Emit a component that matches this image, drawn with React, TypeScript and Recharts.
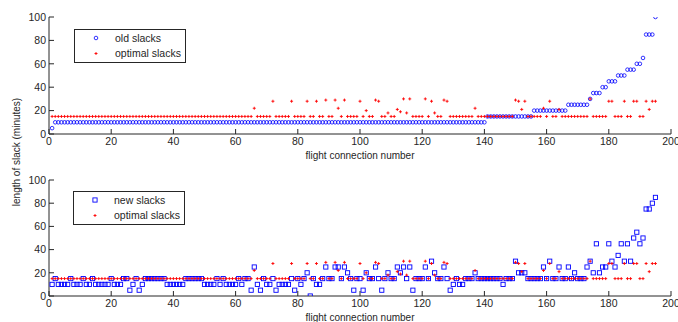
import React from 'react';
import { ScatterChart, Scatter, XAxis, YAxis } from 'recharts';

// flight connection numbers 1..195
const connectionNumbers: number[] = Array.from({ length: 195 }, (_, i) => i + 1);

const xTicks = [0, 20, 40, 60, 80, 100, 120, 140, 160, 180, 200];
const yTicks = [0, 20, 40, 60, 80, 100];

const oldSlacks = [
  5, 10, 10, 10, 10, 10, 10, 10, 10, 10,
  10, 10, 10, 10, 10, 10, 10, 10, 10, 10,
  10, 10, 10, 10, 10, 10, 10, 10, 10, 10,
  10, 10, 10, 10, 10, 10, 10, 10, 10, 10,
  10, 10, 10, 10, 10, 10, 10, 10, 10, 10,
  10, 10, 10, 10, 10, 10, 10, 10, 10, 10,
  10, 10, 10, 10, 10, 10, 10, 10, 10, 10,
  10, 10, 10, 10, 10, 10, 10, 10, 10, 10,
  10, 10, 10, 10, 10, 10, 10, 10, 10, 10,
  10, 10, 10, 10, 10, 10, 10, 10, 10, 10,
  10, 10, 10, 10, 10, 10, 10, 10, 10, 10,
  10, 10, 10, 10, 10, 10, 10, 10, 10, 10,
  10, 10, 10, 10, 10, 10, 10, 10, 10, 10,
  10, 10, 10, 10, 10, 10, 10, 10, 10, 10,
  15, 15, 15, 15, 15, 15, 15, 15, 15, 15,
  15, 15, 15, 15, 15, 20, 20, 20, 20, 20,
  20, 20, 20, 20, 20, 20, 25, 25, 25, 25,
  25, 25, 25, 30, 35, 35, 35, 40, 40, 45,
  45, 45, 50, 50, 50, 55, 55, 55, 60, 60,
  65, 85, 85, 85, 100,
];

const optimalSlacks = [
  15, 15, 15, 15, 15, 15, 15, 15, 15, 15,
  15, 15, 15, 15, 15, 15, 15, 15, 15, 15,
  15, 15, 15, 15, 15, 15, 15, 15, 15, 15,
  15, 15, 15, 15, 15, 15, 15, 15, 15, 15,
  15, 15, 15, 15, 15, 15, 15, 15, 15, 15,
  15, 15, 15, 15, 15, 15, 15, 15, 15, 15,
  15, 15, 15, 15, 15, 22, 15, 15, 15, 15,
  15, 28, 15, 15, 15, 15, 15, 28, 15, 15,
  15, 15, 28, 15, 15, 28, 15, 15, 29, 15,
  15, 29, 22, 15, 29, 15, 15, 15, 15, 28,
  15, 20, 15, 15, 29, 28, 15, 15, 18, 15,
  15, 21, 19, 30, 18, 30, 15, 15, 15, 15,
  30, 15, 28, 18, 15, 15, 29, 28, 15, 15,
  15, 15, 15, 15, 15, 15, 22, 15, 15, 15,
  15, 15, 15, 15, 15, 15, 15, 15, 15, 29,
  28, 21, 28, 15, 15, 15, 15, 15, 22, 15,
  28, 15, 15, 21, 15, 15, 15, 15, 15, 15,
  15, 15, 15, 30, 15, 15, 15, 15, 15, 28,
  28, 15, 15, 15, 28, 15, 15, 28, 28, 15,
  15, 28, 21, 28, 28,
];

const newSlacks = [
  10, 15, 10, 10, 10, 10, 15, 10, 10, 10,
  15, 10, 10, 15, 10, 10, 10, 10, 10, 15,
  10, 10, 10, 15, 15, 5, 10, 15, 5, 10,
  15, 15, 15, 15, 15, 15, 15, 10, 10, 10,
  10, 10, 10, 15, 15, 15, 15, 15, 15, 10,
  10, 10, 10, 15, 10, 15, 10, 10, 10, 10,
  15, 10, 15, 15, 5, 25, 10, 5, 15, 10,
  10, 15, 5, 10, 10, 10, 10, 15, 5, 15,
  10, 15, 20, 0, 15, 10, 10, 15, 25, 15,
  15, 25, 25, 15, 25, 20, 15, 5, 15, 15,
  5, 20, 15, 15, 25, 15, 5, 15, 20, 15,
  15, 25, 20, 25, 15, 25, 5, 15, 15, 15,
  25, 15, 30, 20, 15, 15, 25, 15, 5, 10,
  15, 10, 10, 15, 15, 15, 20, 15, 15, 15,
  15, 15, 15, 15, 15, 10, 15, 15, 15, 30,
  20, 20, 20, 15, 15, 15, 15, 15, 25, 15,
  30, 15, 15, 25, 15, 15, 25, 15, 20, 15,
  15, 15, 25, 30, 20, 45, 20, 25, 25, 45,
  30, 25, 35, 45, 30, 45, 30, 50, 55, 45,
  50, 75, 75, 80, 85,
];

const toPoints = (vals: number[]) => connectionNumbers.map((x, i) => ({ x, y: vals[i] }));
const oldData = toPoints(oldSlacks);
const optData = toPoints(optimalSlacks);
const newData = toPoints(newSlacks);

const FONT = '"Liberation Sans", Arial, Helvetica, sans-serif';
const AXIS = '#262626';
const BLUE = '#0000ff';
const RED = '#ff0000';

const Circle = (p: any) => (
  <circle cx={p.cx} cy={p.cy} r={1.8} fill="none" stroke={BLUE} strokeWidth={0.8} />
);
const Square = (p: any) => (
  <rect x={p.cx - 2.1} y={p.cy - 2.1} width={4.2} height={4.2} fill="none" stroke={BLUE} strokeWidth={0.9} />
);
const Plus = (p: any) => (
  <path d={`M${p.cx - 1.5},${p.cy}H${p.cx + 1.5}M${p.cx},${p.cy - 1.5}V${p.cy + 1.5}`} stroke={RED} strokeWidth={0.9} fill="none" />
);

const XTick = (p: any) => {
  const { x, y, payload } = p;
  return (
    <g>
      <line x1={x} x2={x} y1={y - 4} y2={y - 9} stroke={AXIS} strokeWidth={1} />
      <text x={x} y={y} dy="0.71em" textAnchor="middle" fontSize={10.5} fontFamily={FONT} fill={AXIS}>
        {payload.value}
      </text>
    </g>
  );
};

const YTick = (p: any) => {
  const { x, y, payload } = p;
  return (
    <g>
      <line x1={x + 3} x2={x + 8} y1={y} y2={y} stroke={AXIS} strokeWidth={1} />
      <text x={x} y={y} dy="0.355em" textAnchor="end" fontSize={10.5} fontFamily={FONT} fill={AXIS}>
        {payload.value}
      </text>
    </g>
  );
};

const Panel = ({ top, marginTop, xHeight, series }: any) => (
  <div style={{ position: 'absolute', left: 0, top }}>
    <ScatterChart width={678} height={161} margin={{ top: marginTop, right: 7, bottom: 0, left: 0 }}>
      <XAxis
        type="number"
        dataKey="x"
        domain={[0, 200]}
        ticks={xTicks}
        interval={0}
        height={xHeight}
        tickLine={false}
        tickSize={0}
        tickMargin={4}
        axisLine={{ stroke: AXIS }}
        tick={XTick}
        allowDataOverflow
      />
      <YAxis
        type="number"
        dataKey="y"
        domain={[0, 100]}
        ticks={yTicks}
        interval={0}
        width={49}
        tickLine={false}
        tickSize={0}
        tickMargin={3}
        axisLine={{ stroke: AXIS }}
        tick={YTick}
        allowDataOverflow
      />
      {series}
    </ScatterChart>
  </div>
);

const LegendBox = ({ x, y, first, FirstMark }: any) => (
  <g>
    <rect x={x + 0.5} y={y + 0.5} width={111} height={33} fill="#fff" stroke={AXIS} strokeWidth={1} />
    <FirstMark cx={x + 22} cy={y + 9} />
    <text x={x + 41} y={y + 9} dy="0.355em" fontSize={10.5} fontFamily={FONT} fill={AXIS}>{first}</text>
    <Plus cx={x + 22} cy={y + 24.5} />
    <text x={x + 41} y={y + 24.5} dy="0.355em" fontSize={10.5} fontFamily={FONT} fill={AXIS}>optimal slacks</text>
  </g>
);

export default function App() {
  return (
    <div style={{ position: 'absolute', left: 0, top: 0, width: 678, height: 322, background: '#fff', overflow: 'hidden' }}>
      <Panel
        top={0}
        marginTop={17}
        xHeight={27}
        series={[
          <Scatter key="old" name="old slacks" data={oldData} shape={Circle} isAnimationActive={false} />,
          <Scatter key="opt" name="optimal slacks" data={optData} shape={Plus} isAnimationActive={false} />,
        ]}
      />
      <Panel
        top={161}
        marginTop={19}
        xHeight={26}
        series={[
          <Scatter key="new" name="new slacks" data={newData} shape={Square} isAnimationActive={false} />,
          <Scatter key="opt2" name="optimal slacks" data={optData} shape={Plus} isAnimationActive={false} />,
        ]}
      />
      <svg width={678} height={322} style={{ position: 'absolute', left: 0, top: 0, pointerEvents: 'none' }}>
        <LegendBox x={74} y={29} first="old slacks" FirstMark={Circle} />
        <LegendBox x={73} y={191} first="new slacks" FirstMark={Square} />
        <text x={360} y={155} dy="0.355em" textAnchor="middle" fontSize={10} fontFamily={FONT} fill={AXIS}>
          flight connection number
        </text>
        <text x={360} y={317} dy="0.355em" textAnchor="middle" fontSize={10} fontFamily={FONT} fill={AXIS}>
          flight connection number
        </text>
        <text
          x={16}
          y={152}
          dy="0.355em"
          textAnchor="middle"
          fontSize={10}
          fontFamily={FONT}
          fill={AXIS}
          transform="rotate(-90 16 152)"
        >
          length of slack (minutes)
        </text>
      </svg>
    </div>
  );
}
